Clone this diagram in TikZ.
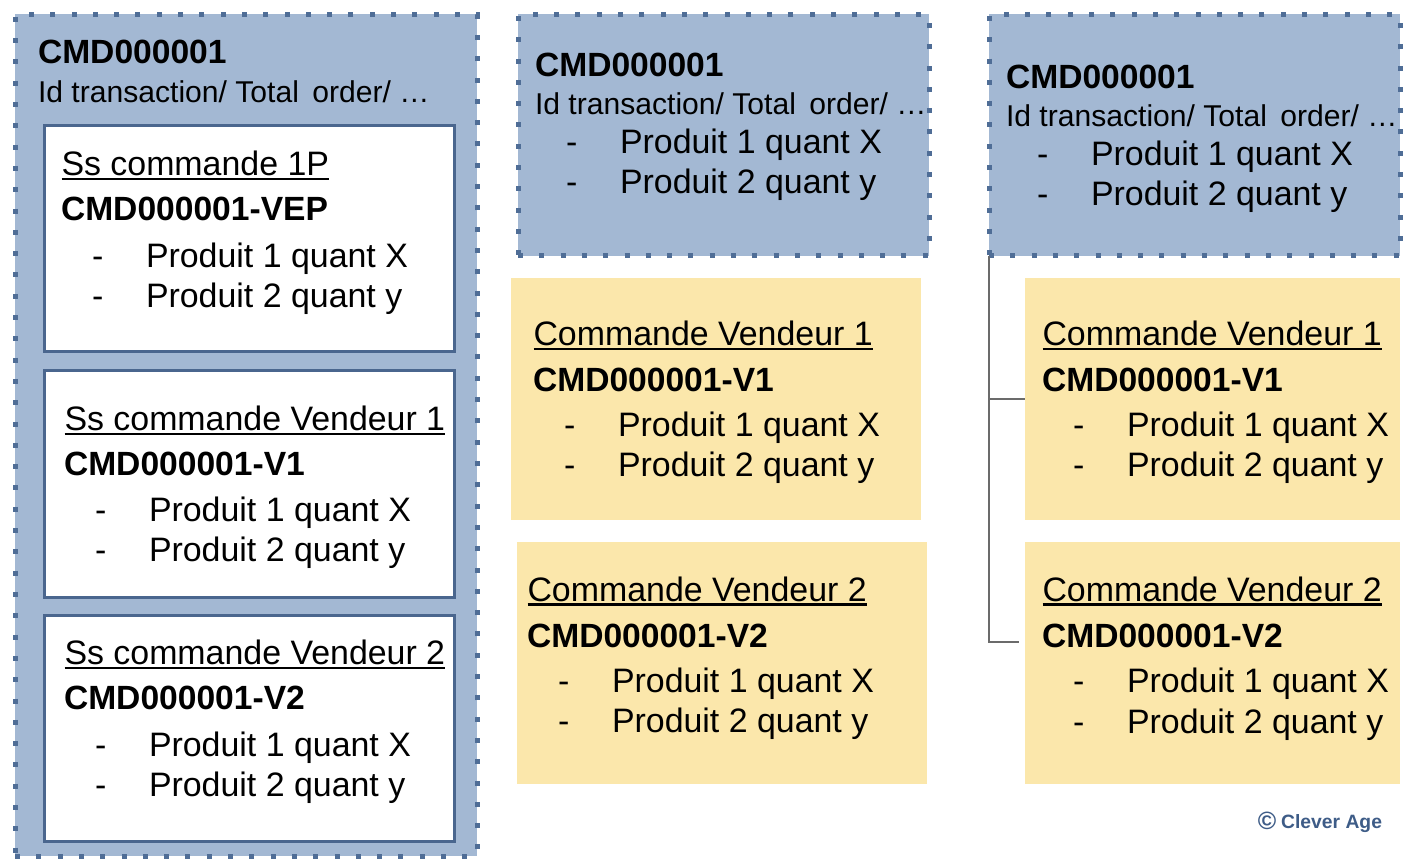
\documentclass[tikz,border=0pt]{standalone}
\usepackage{fontspec}
\setmainfont{Liberation Sans}
\definecolor{bluefill}{HTML}{A3B8D3}
\definecolor{blueline}{HTML}{4F6D96}
\definecolor{innerline}{HTML}{4A668E}
\definecolor{yellowfill}{HTML}{FBE7AB}
\definecolor{linkgrey}{HTML}{6B6B6B}
\definecolor{markblue}{HTML}{3E5C87}
\newcommand{\ulbox}[1]{\leavevmode\setbox0\hbox{#1}\rlap{\copy0}\rlap{\raisebox{-4.6pt}{\rule{\wd0}{2.3pt}}}\hspace{\wd0}}
\tikzset{
  box/.style={inner sep=0pt,outer sep=0pt},
  order/.style={box,fill=bluefill,draw=blueline,line width=5pt,dash pattern=on 5pt off 16.3pt},
  sub/.style={box,fill=white,draw=innerline,line width=3pt},
  seller/.style={box,fill=yellowfill},
  txt/.style={inner sep=0pt,outer sep=0pt,anchor=base west,font=\fontsize{33.9}{36}\selectfont},
  bold/.style={txt,font=\fontsize{33.6}{36}\selectfont\bfseries},
  attr/.style={txt,font=\fontsize{30.1}{34}\selectfont},
  link/.style={draw=linkgrey,line width=1.6pt},
  creditmark/.style={inner sep=0pt,outer sep=0pt,anchor=base east,text=markblue,font=\fontsize{19.3}{22}\selectfont\bfseries}
}
% name, x dash, x text, baseline 1, baseline 2
\newcommand{\prods}[5]{
  \node[txt] (#1d1) at (#2,#4) {-};
  \node[txt] (#1p1) at (#3,#4) {Produit 1 quant X};
  \node[txt] (#1d2) at (#2,#5) {-};
  \node[txt] (#1p2) at (#3,#5) {Produit 2 quant y};
}
\newcommand{\rect}[6]{% name, style, x0, y0, x1, y1
  \node[#2,minimum width=#5pt-#3pt,minimum height=#6pt-#4pt] (#1) at ({(#3+#5)/2},{(#4+#6)/2}) {};
}
\begin{document}
\begin{tikzpicture}[x=1pt,y=-1pt]
\useasboundingbox (0,0) rectangle (1414,866);
% left column
\rect{ordA}{order}{15}{14.5}{477}{856}
\rect{subA}{sub}{44}{126}{454.7}{352}
\rect{subB}{sub}{44}{371}{454.7}{597}
\rect{subC}{sub}{44}{615}{454.7}{841}
\node[bold] (ordAt) at (38,63.7) {CMD000001};
\node[attr] (ordAi) at (38,102.4) {Id transaction/ Total\, order/ …};
\node[txt] (subAh) at (61,175.6) {\ulbox{Ss commande 1P}};
\node[bold] (subAb) at (61,221) {CMD000001-VEP};
\prods{subA}{92}{146}{268}{308}
\node[txt] (subBh) at (64,430.6) {\ulbox{Ss commande Vendeur 1}};
\node[bold] (subBb) at (64,475.6) {CMD000001-V1};
\prods{subB}{95}{149}{521}{561}
\node[txt] (subCh) at (64,664.4) {\ulbox{Ss commande Vendeur 2}};
\node[bold] (subCb) at (64,709.6) {CMD000001-V2};
\prods{subC}{95}{149}{756}{796}
% middle column
\rect{ordB}{order}{518}{14.5}{929}{256}
\node[bold] (ordBt) at (535,76.7) {CMD000001};
\node[attr] (ordBi) at (535,114.6) {Id transaction/ Total\, order/ …};
\prods{ordB}{566}{620}{153.6}{193.6}
\rect{yelA}{seller}{511}{278}{921}{520}
\node[txt] (yelAh) at (533,345.6) {\ulbox{Commande Vendeur 1}};
\node[bold] (yelAb) at (533,391.6) {CMD000001-V1};
\prods{yelA}{564}{618}{436}{476}
\rect{yelB}{seller}{517}{542}{927}{784}
\node[txt] (yelBh) at (527,601) {\ulbox{Commande Vendeur 2}};
\node[bold] (yelBb) at (527,647) {CMD000001-V2};
\prods{yelB}{558}{612}{692}{732}
% right column
\rect{ordC}{order}{989}{14.5}{1400}{256}
\node[bold] (ordCt) at (1006,88.7) {CMD000001};
\node[attr] (ordCi) at (1006,126.6) {Id transaction/ Total\, order/ …};
\prods{ordC}{1037}{1091}{165.6}{205.6}
\rect{yelC}{seller}{1025}{278}{1400}{520}
\node[txt] (yelCh) at (1042,345.6) {\ulbox{Commande Vendeur 1}};
\node[bold] (yelCb) at (1042,391.6) {CMD000001-V1};
\prods{yelC}{1073}{1127}{436}{476}
\rect{yelD}{seller}{1025}{542}{1400}{784}
\node[txt] (yelDh) at (1042,601) {\ulbox{Commande Vendeur 2}};
\node[bold] (yelDb) at (1042,647) {CMD000001-V2};
\prods{yelD}{1073}{1127}{692}{733}
% connectors
\coordinate (tipD) at (1019,642);
\draw[link] (ordC.south west) |- (yelC.west);
\draw[link] (ordC.south west) |- (tipD);
% credit
\node[creditmark] (credit) at (1382,828) {{\fontsize{25}{25}\selectfont\raisebox{-1pt}{©}}\hspace{5pt}Clever Age};
\end{tikzpicture}
\end{document}
